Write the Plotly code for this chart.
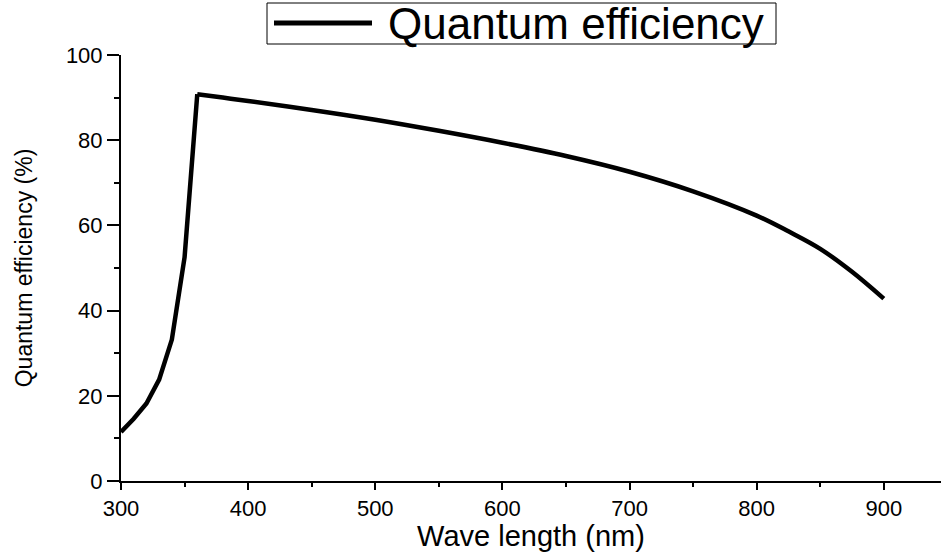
import plotly.graph_objects as go

wavelength = [300, 310, 320, 330, 340, 350, 360, 380, 400, 450, 500, 550, 600,
              650, 700, 750, 800, 825, 850, 875, 900]
efficiency = [11.5, 14.6, 18.2, 23.8, 33.2, 52.5, 90.8, 90.0, 89.2, 87.1, 84.8,
              82.2, 79.4, 76.3, 72.6, 68.0, 62.3, 58.6, 54.5, 49.1, 42.8]
series_name = "Quantum efficiency"
x_ticks = [300, 400, 500, 600, 700, 800, 900]
y_ticks = [0, 20, 40, 60, 80, 100]

W, H = 941, 552
ML, MR, MT, MB = 121, 0, 55, 71
FONT = "Liberation Sans, Arial, sans-serif"

peak = efficiency.index(max(efficiency))

fig = go.Figure()
# rising edge (piecewise straight) and falling part (smooth) of the same series
fig.add_trace(go.Scatter(x=wavelength[:peak + 1], y=efficiency[:peak + 1], mode="lines",
                         name=series_name, line=dict(color="black", width=4.5),
                         showlegend=False))
fig.add_trace(go.Scatter(x=wavelength[peak:], y=efficiency[peak:], mode="lines",
                         name=series_name, line=dict(color="black", width=4.5,
                                                     shape="spline", smoothing=1.0),
                         showlegend=False))

axis_common = dict(showline=True, linecolor="black", linewidth=2, showgrid=False,
                   zeroline=False, ticks="outside", tickcolor="black", tickwidth=2,
                   tickfont=dict(family=FONT, size=22, color="black"))

fig.update_xaxes(range=[300, 945], tickvals=x_ticks, ticklen=7,
                 minor=dict(dtick=50, tick0=300, ticks="outside", ticklen=4,
                            tickcolor="black", tickwidth=2),
                 title=dict(text="Wave length (nm)", standoff=2,
                            font=dict(family=FONT, size=29, color="black")),
                 **axis_common)
fig.update_yaxes(range=[0, 100], tickvals=y_ticks, ticklen=12,
                 minor=dict(dtick=10, tick0=0, ticks="outside", ticklen=5,
                            tickcolor="black", tickwidth=2),
                 title=dict(text="Quantum efficiency (%)", standoff=27,
                            font=dict(family=FONT, size=23, color="black")),
                 **axis_common)

# manual legend (box, line sample, label) in paper coordinates
pw, ph = W - ML - MR, H - MT - MB
def px(x): return (x - ML) / pw
def py(y): return (H - MB - y) / ph

fig.add_shape(type="rect", xref="paper", yref="paper", x0=px(267), x1=px(776),
              y0=py(44), y1=py(3), line=dict(color="black", width=1), fillcolor="white",
              layer="above")
fig.add_shape(type="line", xref="paper", yref="paper", x0=px(274), x1=px(372),
              y0=py(23), y1=py(23), line=dict(color="black", width=5), layer="above")
fig.add_annotation(text=series_name, xref="paper", yref="paper", x=px(386), y=py(24),
                   xanchor="left", yanchor="middle", showarrow=False,
                   font=dict(family=FONT, size=44, color="black"))

fig.update_layout(width=W, height=H, margin=dict(l=ML, r=MR, t=MT, b=MB),
                  plot_bgcolor="white", paper_bgcolor="white", showlegend=False)

fig.write_html("out.html")
